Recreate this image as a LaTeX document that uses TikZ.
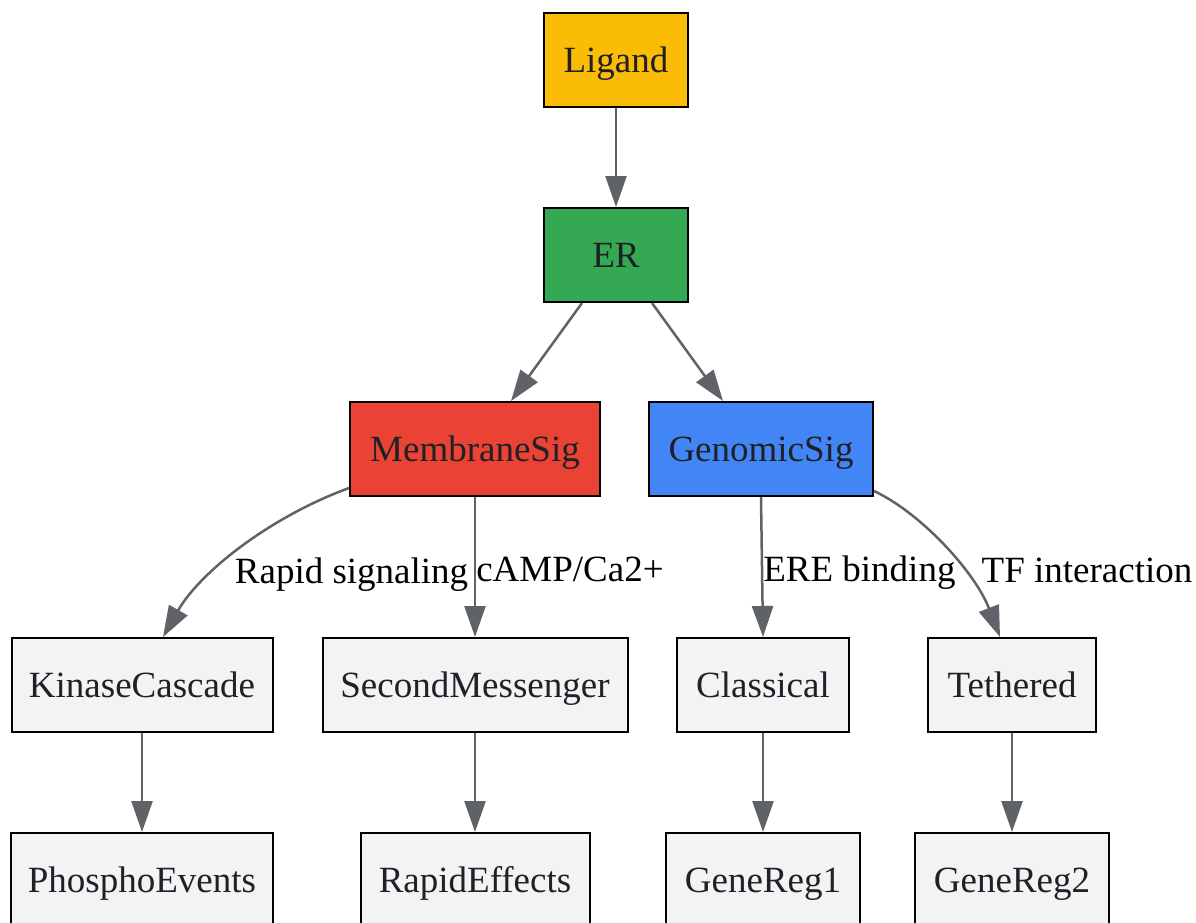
\documentclass[tikz,border=0pt]{standalone}
\usepackage{fontspec}
\setmainfont{Liberation Serif}
\definecolor{gyellow}{HTML}{FBBC05}
\definecolor{ggreen}{HTML}{34A853}
\definecolor{gred}{HTML}{EA4335}
\definecolor{gblue}{HTML}{4285F4}
\definecolor{glight}{HTML}{F1F3F4}
\definecolor{gedge}{HTML}{5F6368}
\definecolor{gtext}{HTML}{202124}
\usepackage{tikz}
\usetikzlibrary{arrows.meta, positioning}

\begin{document}
\begin{tikzpicture}[x=1pt, y=-1pt, node distance=99pt,
    every node/.style={font=\fontsize{37}{44}\selectfont,
      text height=26pt, text depth=2pt},
    box/.style={draw=black, line width=2pt, fill=glight, text=gtext,
      minimum height=94pt, text centered},
    edge/.style={draw=gedge, line width=2.5pt,
      -{Triangle[length=31pt, width=21pt]}},
    elabel/.style={text=black, inner sep=0pt, anchor=west}]
  \useasboundingbox (0,0) rectangle (1196,922);

  % signal source
  \node[box, fill=gyellow, minimum width=144pt] (ligand) at (616,60) {Ligand};
  \node[box, fill=ggreen, minimum width=144pt, below=of ligand] (er) {ER};

  % two branches
  \node[box, fill=gred, minimum width=250pt] (membrane) at (475,449) {MembraneSig};
  \node[box, fill=gblue, minimum width=224pt] (genomic) at (761,449) {GenomicSig};

  \node[box, minimum width=261pt] (kinase) at (142,685) {KinaseCascade};
  \node[box, minimum width=305pt] (second) at (475,685) {SecondMessenger};
  \node[box, minimum width=172pt] (classical) at (763,685) {Classical};
  \node[box, minimum width=168pt] (tethered) at (1012,685) {Tethered};

  \node[box, minimum width=262pt, below=of kinase] (phospho) {PhosphoEvents};
  \node[box, minimum width=229pt, below=of second] (rapid) {RapidEffects};
  \node[box, minimum width=194pt, below=of classical] (gene1) {GeneReg1};
  \node[box, minimum width=194pt, below=of tethered] (gene2) {GeneReg2};

  \draw[edge] (ligand) -- (er);
  \draw[edge] ([xshift=-34pt]er.south) -- ([xshift=36pt]membrane.north);
  \draw[edge] ([xshift=36pt]er.south) -- ([xshift=-38pt]genomic.north);

  \draw[edge] ([yshift=9pt]membrane.south west)
    .. controls +(-79,29) and +(37,-65) .. ([xshift=21pt]kinase.north)
    node[elabel, pos=0.64, xshift=19pt] {Rapid signaling};
  \draw[edge] (membrane.south) -- (second.north)
    node[elabel, pos=0.52] {cAMP/Ca2+};
  \draw[edge] (genomic.south) -- (classical.north)
    node[elabel, pos=0.52] {ERE binding};
  \draw[edge] ([yshift=6pt]genomic.south east)
    .. controls +(47,22) and +(-25,-65) .. ([xshift=-12pt]tethered.north)
    node[elabel, pos=0.64, xshift=17pt] {TF interaction};

  \draw[edge] (kinase) -- (phospho);
  \draw[edge] (second) -- (rapid);
  \draw[edge] (classical) -- (gene1);
  \draw[edge] (tethered) -- (gene2);
\end{tikzpicture}
\end{document}
